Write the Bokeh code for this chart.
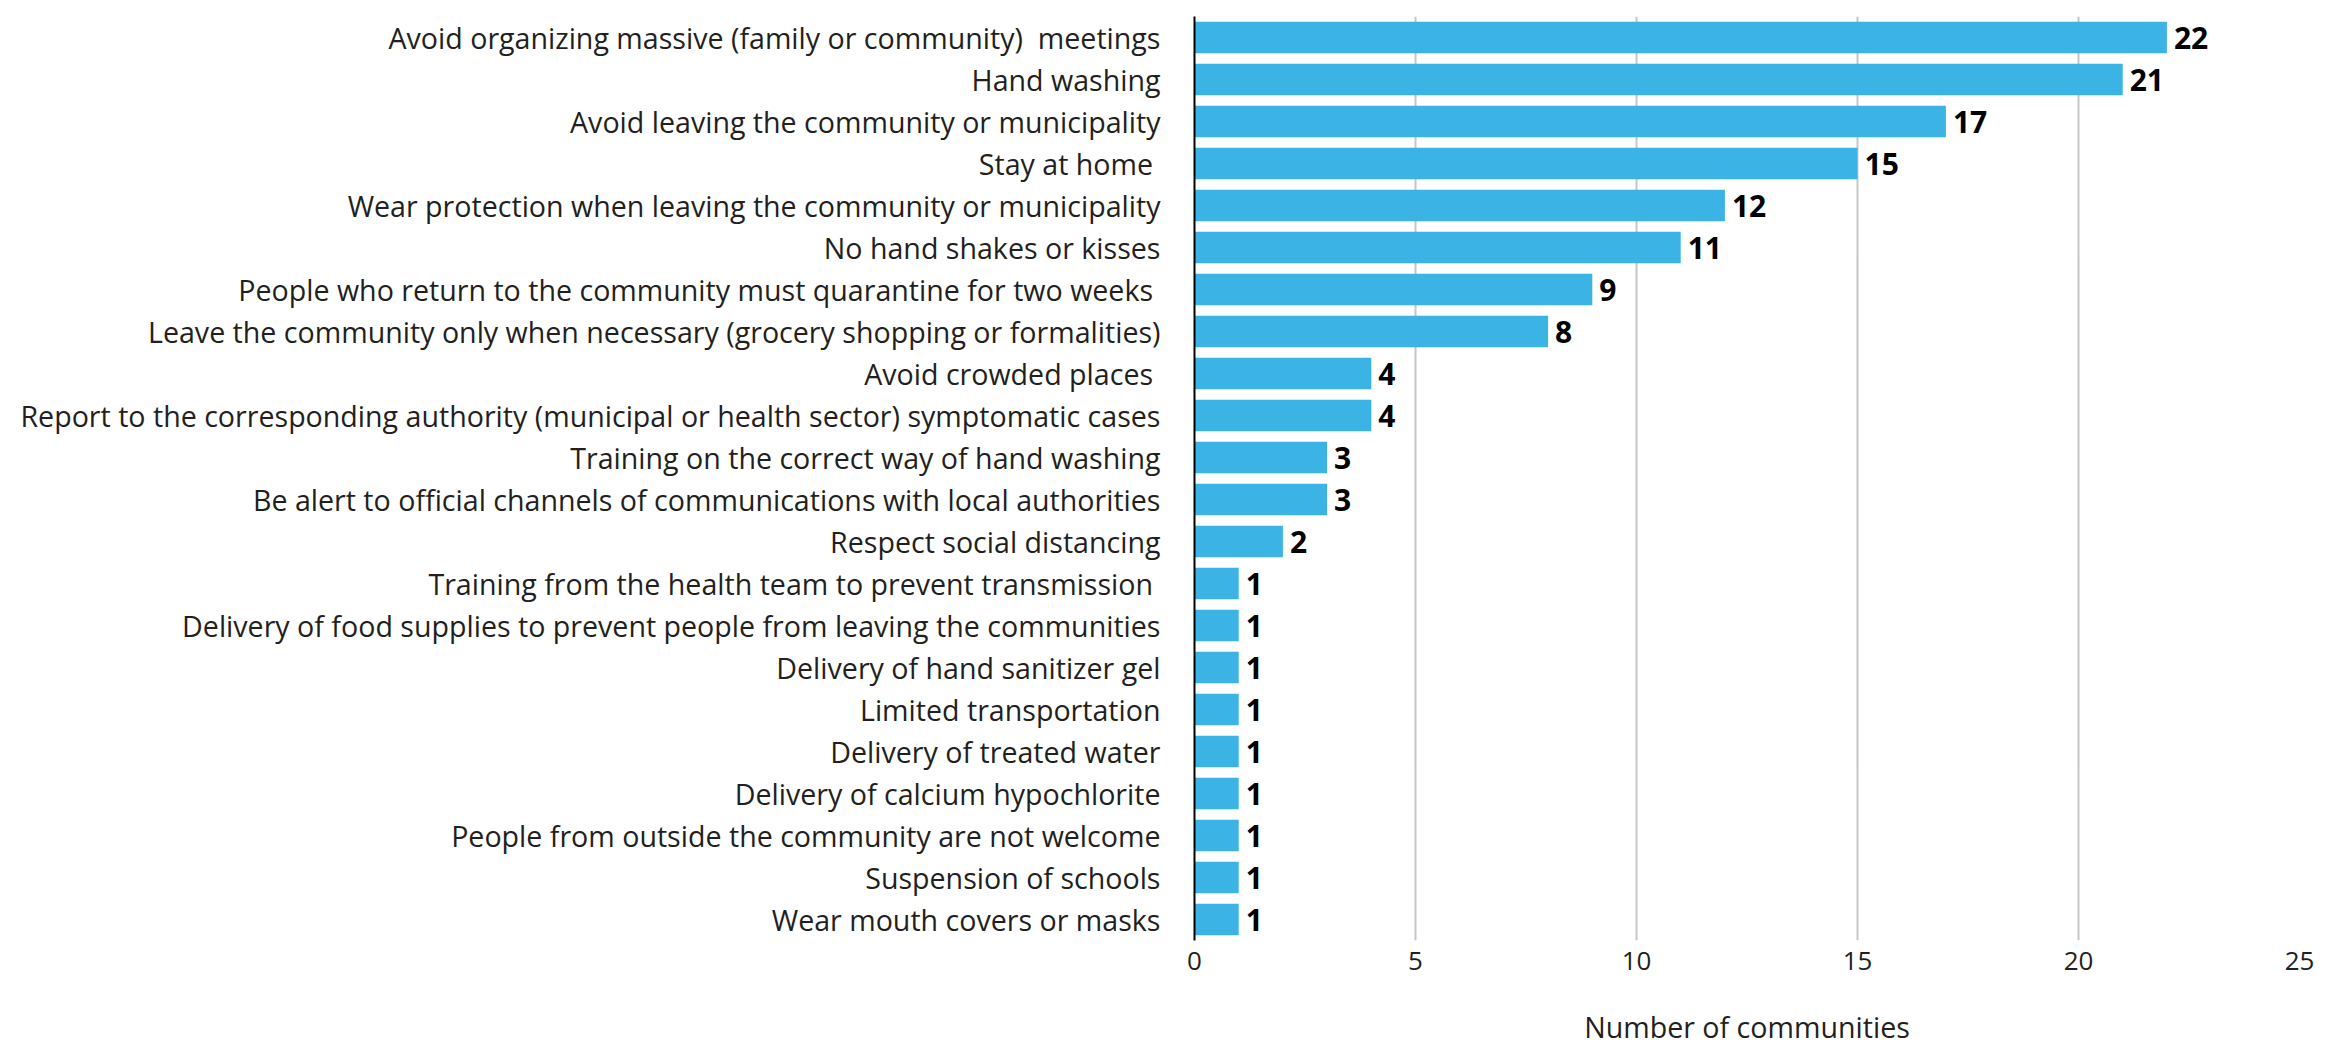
from bokeh.plotting import figure
from bokeh.models import FactorRange, Range1d, FixedTicker
from bokeh.core.properties import value
from bokeh.embed import file_html
from bokeh.resources import INLINE

categories = [
    "Avoid organizing massive (family or community)\u00a0 meetings",
    "Hand washing",
    "Avoid leaving the community or municipality",
    "Stay at home\u00a0",
    "Wear protection when leaving the community or municipality",
    "No hand shakes or kisses",
    "People who return to the community must quarantine for two weeks\u00a0",
    "Leave the community only when necessary (grocery shopping or formalities)",
    "Avoid crowded places\u00a0",
    "Report to the corresponding authority (municipal or health sector) symptomatic cases",
    "Training on the correct way of hand washing",
    "Be alert to official channels of communications with local authorities",
    "Respect social distancing",
    "Training from the health team to prevent transmission\u00a0",
    "Delivery of food supplies to prevent people from leaving the communities",
    "Delivery of hand sanitizer gel",
    "Limited transportation",
    "Delivery of treated water",
    "Delivery of calcium hypochlorite",
    "People from outside the community are not welcome",
    "Suspension of schools",
    "Wear mouth covers or masks",
]
counts = [22, 21, 17, 15, 12, 11, 9, 8, 4, 4, 3, 3, 2, 1, 1, 1, 1, 1, 1, 1, 1, 1]
x_ticks = [0, 5, 10, 15, 20, 25]
x_title = "Number of communities"

LABEL_FONT = "Open Sans"
BAR_COLOR = "#3bb3e4"
TEXT_COLOR = "#231f20"

p = figure(
    width=2336, height=1048,
    y_range=FactorRange(factors=list(reversed(categories))),
    x_range=Range1d(0, 25),
    output_backend="svg", toolbar_location=None,
    min_border_left=1194, min_border_right=37,
    min_border_top=16, min_border_bottom=104,
)
p.outline_line_color = None
p.background_fill_color = "white"
p.border_fill_color = "white"

p.hbar(y=categories, right=counts, left=0, height=0.75,
       fill_color=BAR_COLOR, line_color=None)

p.text(x=counts, y=categories, text=[str(c) for c in counts],
       x_offset=7, text_baseline="middle", text_align="left",
       text_font=value("Open Sans"), text_font_style="bold",
       text_font_size="30px", text_color="black")

# y axis
yax = p.yaxis[0]
yax.axis_line_color = "black"
yax.axis_line_width = 2
yax.major_tick_line_color = None
yax.minor_tick_line_color = None
yax.major_tick_out = 0
yax.major_label_standoff = 34
yax.major_label_text_font = LABEL_FONT
yax.major_label_text_font_size = "28.6px"
yax.major_label_text_color = TEXT_COLOR

# x axis
xax = p.xaxis[0]
xax.ticker = FixedTicker(ticks=x_ticks)
xax.axis_line_color = None
xax.major_tick_line_color = None
xax.minor_tick_line_color = None
xax.major_tick_out = 0
xax.major_label_standoff = 11
xax.major_label_text_font = LABEL_FONT
xax.major_label_text_font_size = "26px"
xax.major_label_text_color = TEXT_COLOR
xax.axis_label = x_title
xax.axis_label_text_font = LABEL_FONT
xax.axis_label_text_font_size = "28.6px"
xax.axis_label_text_font_style = "normal"
xax.axis_label_text_color = TEXT_COLOR
xax.axis_label_standoff = 34

p.ygrid.grid_line_color = None
p.xgrid.ticker = FixedTicker(ticks=x_ticks)
p.xgrid.grid_line_color = "#c6c6c6"
p.xgrid.grid_line_width = 2

open("out.html", "w").write(file_html(p, INLINE))
